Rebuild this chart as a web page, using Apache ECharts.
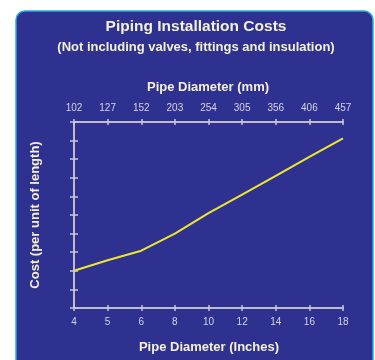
<!DOCTYPE html>
<html>
<head>
<meta charset="utf-8">
<title>Piping Installation Costs</title>
<script src="https://cdn.jsdelivr.net/npm/echarts@6/dist/echarts.min.js"></script>
<style>
  html, body { margin: 0; padding: 0; background: #ffffff; }
  #chart { width: 375px; height: 360px; }
</style>
</head>
<body>
<div id="chart"></div>
<script>
// Nominal pipe sizes (inches) along the bottom, metric equivalents (mm) along the top
const diameterInches = ['4', '5', '6', '8', '10', '12', '14', '16', '18'];
const diameterMm = ['102', '127', '152', '203', '254', '305', '356', '406', '457'];
// Relative installation cost per unit of length
const costPerLength = [2.0, 2.57, 3.08, 4.0, 5.1, 6.1, 7.1, 8.13, 9.12];
const costTicks = { min: 0, max: 10, step: 1 };

const FONT = 'Liberation Sans, Arial, sans-serif';
const NAVY = '#2e3190';
const TITLE_COLOR = '#f4f0d2';
const LABEL_COLOR = '#d4d4e2';
const LINE_COLOR = '#eeeadc';
const TICK_COLOR = '#c8c8d8';

const chart = echarts.init(document.getElementById('chart'), null, { renderer: 'canvas' });

function categoryAxis(position, data, showLabel, inside) {
  return {
    type: 'category',
    position: position,
    data: data,
    boundaryGap: false,
    axisLine: { show: !inside, lineStyle: { color: LINE_COLOR, width: 1.5 } },
    axisTick: { show: true, inside: inside, length: 3, alignWithLabel: true,
                lineStyle: { color: TICK_COLOR, width: 1.5 } },
    axisLabel: { show: showLabel, color: LABEL_COLOR, fontSize: 10, fontFamily: FONT, margin: 9 },
    splitLine: { show: false }
  };
}

function valueAxis(inside) {
  return {
    type: 'value',
    position: 'left',
    min: costTicks.min,
    max: costTicks.max,
    interval: costTicks.step,
    axisLine: { show: !inside, lineStyle: { color: LINE_COLOR, width: 1.5 } },
    axisTick: { show: true, inside: inside, length: 4, lineStyle: { color: TICK_COLOR, width: 1.5 } },
    axisLabel: { show: false },
    splitLine: { show: false }
  };
}

function caption(text, x, y, size, rotation) {
  return {
    type: 'text', x: x, y: y, rotation: rotation || 0,
    style: { text: text, fill: TITLE_COLOR, font: 'bold ' + size + 'px ' + FONT,
             align: 'center', verticalAlign: 'middle' }
  };
}

const option = {
  animation: false,
  backgroundColor: '#ffffff',
  graphic: [
    {
      type: 'rect', z: -10, silent: true,
      shape: { x: 16, y: 11, width: 357, height: 365, r: 9 },
      style: { fill: NAVY, stroke: '#27a9e6', lineWidth: 1.5 }
    },
    caption('Piping Installation Costs', 196, 27, 15.5),
    caption('(Not including valves, fittings and insulation)', 196, 47, 13),
    caption('Pipe Diameter (mm)', 208, 87, 13),
    caption('Pipe Diameter (Inches)', 209, 347, 13),
    caption('Cost (per unit of length)', 35, 215, 13, Math.PI / 2)
  ],
  grid: { left: 74, right: 32, top: 122, bottom: 52, containLabel: false },
  xAxis: [
    categoryAxis('bottom', diameterInches, true, false),
    categoryAxis('bottom', diameterInches, false, true),
    categoryAxis('top', diameterMm, true, false),
    categoryAxis('top', diameterMm, false, true)
  ],
  yAxis: [valueAxis(false), valueAxis(true)],
  series: [
    {
      type: 'line',
      xAxisIndex: 0,
      yAxisIndex: 0,
      data: costPerLength,
      showSymbol: false,
      symbol: 'none',
      lineStyle: { color: '#f0e62c', width: 2 },
      z: 5
    }
  ]
};

chart.setOption(option);
</script>
</body>
</html>
